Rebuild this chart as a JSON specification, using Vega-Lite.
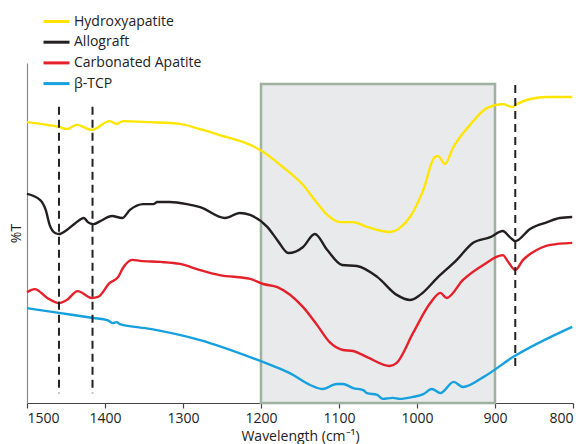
{
  "$schema": "https://vega.github.io/schema/vega-lite/v6.json",
  "autosize": {"type": "none"},
  "width": 546,
  "height": 340,
  "padding": {"left": 27, "top": 63, "right": 12, "bottom": 41},
  "background": "white",
  "config": {
    "font": "Open Sans",
    "view": {"stroke": null},
    "axis": {"labelFont": "Open Sans", "titleFont": "Open Sans", "grid": false},
    "legend": {"labelFont": "Open Sans"}
  },
  "datasets": {
    "spectra": [
      {"series": "Hydroxyapatite", "wn": 1500, "t": 82.6},
      {"series": "Hydroxyapatite", "wn": 1483, "t": 82.1},
      {"series": "Hydroxyapatite", "wn": 1459, "t": 81.2},
      {"series": "Hydroxyapatite", "wn": 1449, "t": 80.6},
      {"series": "Hydroxyapatite", "wn": 1436, "t": 81.8},
      {"series": "Hydroxyapatite", "wn": 1417, "t": 80.3},
      {"series": "Hydroxyapatite", "wn": 1394, "t": 82.9},
      {"series": "Hydroxyapatite", "wn": 1385, "t": 82.1},
      {"series": "Hydroxyapatite", "wn": 1377, "t": 82.9},
      {"series": "Hydroxyapatite", "wn": 1342, "t": 82.6},
      {"series": "Hydroxyapatite", "wn": 1304, "t": 82.1},
      {"series": "Hydroxyapatite", "wn": 1279, "t": 80.6},
      {"series": "Hydroxyapatite", "wn": 1253, "t": 78.8},
      {"series": "Hydroxyapatite", "wn": 1214, "t": 75.9},
      {"series": "Hydroxyapatite", "wn": 1201, "t": 74.4},
      {"series": "Hydroxyapatite", "wn": 1172, "t": 69.4},
      {"series": "Hydroxyapatite", "wn": 1146, "t": 64.1},
      {"series": "Hydroxyapatite", "wn": 1128, "t": 58.8},
      {"series": "Hydroxyapatite", "wn": 1115, "t": 55.3},
      {"series": "Hydroxyapatite", "wn": 1099, "t": 53.2},
      {"series": "Hydroxyapatite", "wn": 1082, "t": 53.2},
      {"series": "Hydroxyapatite", "wn": 1064, "t": 51.8},
      {"series": "Hydroxyapatite", "wn": 1035, "t": 50.3},
      {"series": "Hydroxyapatite", "wn": 1022, "t": 51.5},
      {"series": "Hydroxyapatite", "wn": 1009, "t": 54.7},
      {"series": "Hydroxyapatite", "wn": 992, "t": 62.6},
      {"series": "Hydroxyapatite", "wn": 977, "t": 72.4},
      {"series": "Hydroxyapatite", "wn": 973, "t": 72.6},
      {"series": "Hydroxyapatite", "wn": 964, "t": 70.3},
      {"series": "Hydroxyapatite", "wn": 954, "t": 75.0},
      {"series": "Hydroxyapatite", "wn": 932, "t": 81.8},
      {"series": "Hydroxyapatite", "wn": 910, "t": 86.8},
      {"series": "Hydroxyapatite", "wn": 890, "t": 87.9},
      {"series": "Hydroxyapatite", "wn": 878, "t": 87.1},
      {"series": "Hydroxyapatite", "wn": 872, "t": 87.9},
      {"series": "Hydroxyapatite", "wn": 855, "t": 89.4},
      {"series": "Hydroxyapatite", "wn": 833, "t": 90.0},
      {"series": "Hydroxyapatite", "wn": 801, "t": 90.0},

      {"series": "Allograft", "wn": 1500, "t": 61.5},
      {"series": "Allograft", "wn": 1483, "t": 59.7},
      {"series": "Allograft", "wn": 1476, "t": 56.8},
      {"series": "Allograft", "wn": 1471, "t": 52.4},
      {"series": "Allograft", "wn": 1464, "t": 50.0},
      {"series": "Allograft", "wn": 1459, "t": 49.7},
      {"series": "Allograft", "wn": 1449, "t": 50.9},
      {"series": "Allograft", "wn": 1438, "t": 52.9},
      {"series": "Allograft", "wn": 1427, "t": 54.4},
      {"series": "Allograft", "wn": 1422, "t": 53.2},
      {"series": "Allograft", "wn": 1415, "t": 52.6},
      {"series": "Allograft", "wn": 1406, "t": 53.5},
      {"series": "Allograft", "wn": 1391, "t": 55.0},
      {"series": "Allograft", "wn": 1378, "t": 54.4},
      {"series": "Allograft", "wn": 1368, "t": 56.8},
      {"series": "Allograft", "wn": 1351, "t": 58.5},
      {"series": "Allograft", "wn": 1338, "t": 58.5},
      {"series": "Allograft", "wn": 1333, "t": 59.1},
      {"series": "Allograft", "wn": 1317, "t": 59.1},
      {"series": "Allograft", "wn": 1295, "t": 58.5},
      {"series": "Allograft", "wn": 1278, "t": 57.6},
      {"series": "Allograft", "wn": 1246, "t": 54.4},
      {"series": "Allograft", "wn": 1227, "t": 55.9},
      {"series": "Allograft", "wn": 1214, "t": 55.3},
      {"series": "Allograft", "wn": 1192, "t": 51.8},
      {"series": "Allograft", "wn": 1179, "t": 47.9},
      {"series": "Allograft", "wn": 1165, "t": 44.1},
      {"series": "Allograft", "wn": 1146, "t": 45.9},
      {"series": "Allograft", "wn": 1131, "t": 49.7},
      {"series": "Allograft", "wn": 1115, "t": 45.0},
      {"series": "Allograft", "wn": 1096, "t": 40.6},
      {"series": "Allograft", "wn": 1077, "t": 40.3},
      {"series": "Allograft", "wn": 1051, "t": 37.1},
      {"series": "Allograft", "wn": 1026, "t": 31.8},
      {"series": "Allograft", "wn": 1009, "t": 30.3},
      {"series": "Allograft", "wn": 996, "t": 31.8},
      {"series": "Allograft", "wn": 974, "t": 36.8},
      {"series": "Allograft", "wn": 949, "t": 42.1},
      {"series": "Allograft", "wn": 928, "t": 47.1},
      {"series": "Allograft", "wn": 906, "t": 48.8},
      {"series": "Allograft", "wn": 890, "t": 50.6},
      {"series": "Allograft", "wn": 881, "t": 48.8},
      {"series": "Allograft", "wn": 874, "t": 47.6},
      {"series": "Allograft", "wn": 855, "t": 51.2},
      {"series": "Allograft", "wn": 833, "t": 53.2},
      {"series": "Allograft", "wn": 817, "t": 54.4},
      {"series": "Allograft", "wn": 801, "t": 54.7},

      {"series": "Carbonated Apatite", "wn": 1500, "t": 32.6},
      {"series": "Carbonated Apatite", "wn": 1490, "t": 33.5},
      {"series": "Carbonated Apatite", "wn": 1474, "t": 30.9},
      {"series": "Carbonated Apatite", "wn": 1459, "t": 29.4},
      {"series": "Carbonated Apatite", "wn": 1449, "t": 30.3},
      {"series": "Carbonated Apatite", "wn": 1435, "t": 32.9},
      {"series": "Carbonated Apatite", "wn": 1417, "t": 30.9},
      {"series": "Carbonated Apatite", "wn": 1409, "t": 31.2},
      {"series": "Carbonated Apatite", "wn": 1394, "t": 35.3},
      {"series": "Carbonated Apatite", "wn": 1383, "t": 37.1},
      {"series": "Carbonated Apatite", "wn": 1377, "t": 39.7},
      {"series": "Carbonated Apatite", "wn": 1365, "t": 42.1},
      {"series": "Carbonated Apatite", "wn": 1355, "t": 41.8},
      {"series": "Carbonated Apatite", "wn": 1329, "t": 41.5},
      {"series": "Carbonated Apatite", "wn": 1304, "t": 40.9},
      {"series": "Carbonated Apatite", "wn": 1278, "t": 39.1},
      {"series": "Carbonated Apatite", "wn": 1253, "t": 37.6},
      {"series": "Carbonated Apatite", "wn": 1214, "t": 36.5},
      {"series": "Carbonated Apatite", "wn": 1197, "t": 35.0},
      {"series": "Carbonated Apatite", "wn": 1179, "t": 34.1},
      {"series": "Carbonated Apatite", "wn": 1146, "t": 28.2},
      {"series": "Carbonated Apatite", "wn": 1128, "t": 22.9},
      {"series": "Carbonated Apatite", "wn": 1112, "t": 17.9},
      {"series": "Carbonated Apatite", "wn": 1095, "t": 15.6},
      {"series": "Carbonated Apatite", "wn": 1082, "t": 15.3},
      {"series": "Carbonated Apatite", "wn": 1064, "t": 13.5},
      {"series": "Carbonated Apatite", "wn": 1035, "t": 10.9},
      {"series": "Carbonated Apatite", "wn": 1026, "t": 11.8},
      {"series": "Carbonated Apatite", "wn": 1005, "t": 20.6},
      {"series": "Carbonated Apatite", "wn": 983, "t": 29.4},
      {"series": "Carbonated Apatite", "wn": 970, "t": 32.4},
      {"series": "Carbonated Apatite", "wn": 962, "t": 30.9},
      {"series": "Carbonated Apatite", "wn": 941, "t": 36.2},
      {"series": "Carbonated Apatite", "wn": 915, "t": 40.6},
      {"series": "Carbonated Apatite", "wn": 890, "t": 43.5},
      {"series": "Carbonated Apatite", "wn": 883, "t": 41.5},
      {"series": "Carbonated Apatite", "wn": 874, "t": 39.1},
      {"series": "Carbonated Apatite", "wn": 864, "t": 42.1},
      {"series": "Carbonated Apatite", "wn": 851, "t": 44.4},
      {"series": "Carbonated Apatite", "wn": 829, "t": 46.5},
      {"series": "Carbonated Apatite", "wn": 801, "t": 47.1},

      {"series": "β-TCP", "wn": 1500, "t": 27.9},
      {"series": "β-TCP", "wn": 1459, "t": 26.5},
      {"series": "β-TCP", "wn": 1415, "t": 25.0},
      {"series": "β-TCP", "wn": 1397, "t": 24.4},
      {"series": "β-TCP", "wn": 1390, "t": 23.5},
      {"series": "β-TCP", "wn": 1385, "t": 23.8},
      {"series": "β-TCP", "wn": 1381, "t": 23.2},
      {"series": "β-TCP", "wn": 1342, "t": 21.8},
      {"series": "β-TCP", "wn": 1278, "t": 18.5},
      {"series": "β-TCP", "wn": 1214, "t": 13.5},
      {"series": "β-TCP", "wn": 1188, "t": 11.2},
      {"series": "β-TCP", "wn": 1163, "t": 8.8},
      {"series": "β-TCP", "wn": 1137, "t": 5.3},
      {"series": "β-TCP", "wn": 1121, "t": 4.1},
      {"series": "β-TCP", "wn": 1103, "t": 5.6},
      {"series": "β-TCP", "wn": 1095, "t": 5.6},
      {"series": "β-TCP", "wn": 1082, "t": 4.4},
      {"series": "β-TCP", "wn": 1069, "t": 3.8},
      {"series": "β-TCP", "wn": 1064, "t": 2.9},
      {"series": "β-TCP", "wn": 1051, "t": 2.4},
      {"series": "β-TCP", "wn": 1044, "t": 1.2},
      {"series": "β-TCP", "wn": 1031, "t": 1.5},
      {"series": "β-TCP", "wn": 1022, "t": 1.2},
      {"series": "β-TCP", "wn": 1005, "t": 1.8},
      {"series": "β-TCP", "wn": 992, "t": 2.6},
      {"series": "β-TCP", "wn": 981, "t": 4.1},
      {"series": "β-TCP", "wn": 970, "t": 2.9},
      {"series": "β-TCP", "wn": 953, "t": 6.2},
      {"series": "β-TCP", "wn": 941, "t": 4.7},
      {"series": "β-TCP", "wn": 915, "t": 7.6},
      {"series": "β-TCP", "wn": 877, "t": 13.5},
      {"series": "β-TCP", "wn": 801, "t": 22.4}
    ],
    "box": [{"from": 1200, "to": 900, "top": 93.8, "bottom": 0}],
    "guides": [
      {"wn": 1459, "top": 87.1, "bottom": 2.9},
      {"wn": 1416, "top": 87.1, "bottom": 2.9},
      {"wn": 874, "top": 93.5, "bottom": 9.7}
    ]
  },
  "layer": [
    {
      "data": {"name": "box"},
      "mark": {"type": "rect", "fill": "#e9eaec", "stroke": "#9fb1a1", "strokeWidth": 2.5},
      "encoding": {
        "x": {"field": "from", "type": "quantitative", "scale": {"domain": [800, 1500], "reverse": true, "nice": false}},
        "x2": {"field": "to"},
        "y": {"field": "top", "type": "quantitative", "scale": {"domain": [0, 100], "nice": false}},
        "y2": {"field": "bottom"}
      }
    },
    {
      "data": {"name": "spectra"},
      "mark": {"type": "line", "strokeWidth": 2.4, "interpolate": "monotone"},
      "encoding": {
        "x": {
          "field": "wn", "type": "quantitative",
          "scale": {"domain": [800, 1500], "reverse": true, "nice": false},
          "axis": {
            "values": [1500, 1400, 1300, 1200, 1100, 1000, 900, 800],
            "format": "d",
            "title": "Wavelength (cm⁻¹)",
            "titleFontSize": 14, "titleFontWeight": "normal", "titleColor": "#222",
            "titlePadding": 4,
            "labelFontSize": 14, "labelColor": "#222", "labelPadding": 3,
            "domainColor": "#444", "domainWidth": 1.2,
            "tickColor": "#444", "tickSize": 5, "tickWidth": 1.2
          }
        },
        "y": {
          "field": "t", "type": "quantitative",
          "scale": {"domain": [0, 100], "nice": false},
          "axis": {
            "title": "%T", "titleFontSize": 14, "titleFontWeight": "normal", "titleColor": "#222",
            "titlePadding": 4,
            "labels": false, "ticks": false,
            "domainColor": "#8a8a8a", "domainWidth": 1.2
          }
        },
        "color": {
          "field": "series", "type": "nominal",
          "scale": {
            "domain": ["Hydroxyapatite", "Allograft", "Carbonated Apatite", "β-TCP"],
            "range": ["#ffe500", "#231f20", "#e4202a", "#16a0de"]
          },
          "legend": {
            "title": null,
            "orient": "none",
            "legendX": 20,
            "legendY": -51,
            "symbolType": "M-1.625,0H1.625",
            "symbolSize": 256,
            "symbolStrokeWidth": 3,
            "labelFontSize": 14,
            "labelColor": "#222",
            "labelOffset": 8,
            "rowPadding": 3.7
          }
        }
      }
    },
    {
      "data": {"name": "guides"},
      "mark": {"type": "rule", "color": "#222", "strokeWidth": 2, "strokeDash": [8, 5]},
      "encoding": {
        "x": {"field": "wn", "type": "quantitative"},
        "y": {"field": "top", "type": "quantitative"},
        "y2": {"field": "bottom"}
      }
    }
  ]
}
